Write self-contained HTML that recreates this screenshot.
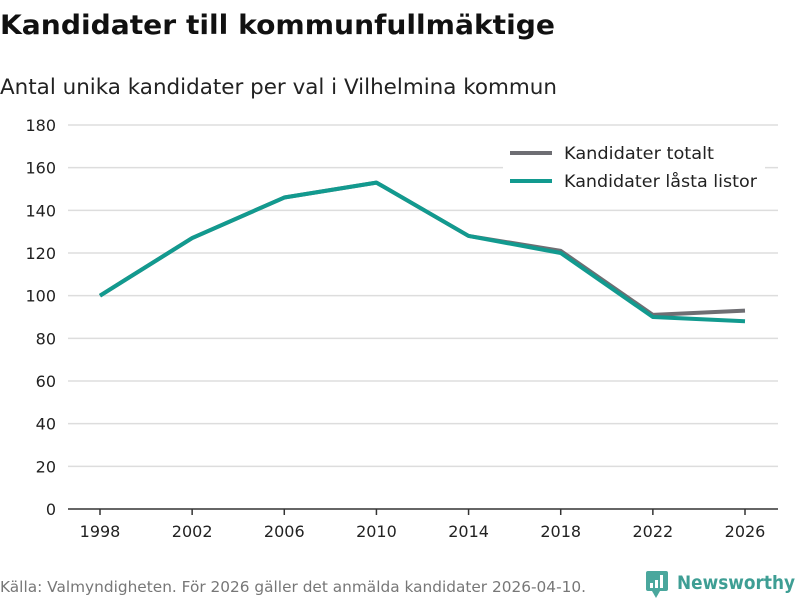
<!DOCTYPE html>
<html><head><meta charset="utf-8"><style>
body{margin:0;background:#fff;width:800px;height:600px;overflow:hidden;font-family:"DejaVu Sans","Liberation Sans",sans-serif;}
</style></head><body>
<svg id="chart" width="800" height="600" xmlns="http://www.w3.org/2000/svg" font-family="DejaVu Sans, Liberation Sans, sans-serif">
<text x="0" y="34" font-size="27" font-weight="bold" fill="#111" textLength="555" lengthAdjust="spacingAndGlyphs">Kandidater till kommunfullmäktige</text>
<text x="0" y="94" font-size="21" fill="#222" textLength="557" lengthAdjust="spacingAndGlyphs">Antal unika kandidater per val i Vilhelmina kommun</text>
<g id="grid"></g><g id="axes"></g><g id="lines"></g>
<g>
<rect x="503" y="140" width="262" height="58" fill="#fff"/>
<line x1="510" y1="153" x2="552" y2="153" stroke="#6e6e73" stroke-width="4"/>
<text x="564" y="159" font-size="16.5" fill="#222" textLength="150" lengthAdjust="spacingAndGlyphs">Kandidater totalt</text>
<line x1="510" y1="181" x2="552" y2="181" stroke="#129a8f" stroke-width="4"/>
<text x="564" y="187" font-size="16.5" fill="#222" textLength="193" lengthAdjust="spacingAndGlyphs">Kandidater låsta listor</text>
</g>
<text x="0" y="592" font-size="15" fill="#777" textLength="586" lengthAdjust="spacingAndGlyphs">Källa: Valmyndigheten. För 2026 gäller det anmälda kandidater 2026-04-10.</text>
<g>
<rect x="646" y="571" width="22" height="20" rx="2" fill="#4aa79d"/>
<polygon points="652,591 660,591 656,598" fill="#4aa79d"/>
<rect x="650" y="583" width="3" height="5" fill="#fff"/><rect x="655" y="580" width="3" height="8" fill="#fff"/><rect x="660" y="575" width="3" height="13" fill="#fff"/>
<text x="677" y="589" font-size="19" font-weight="bold" fill="#3e9e94" textLength="118" lengthAdjust="spacingAndGlyphs">Newsworthy</text>
</g>
</svg>
<script>
const years=[1998,2002,2006,2010,2014,2018,2022,2026];
const total=[100,127,146,153,128,121,91,93];
const locked=[100,127,146,153,128,120,90,88];
const yTicks=[0,20,40,60,80,100,120,140,160,180];
const NS="http://www.w3.org/2000/svg";
const x=v=>100+(v-1998)*(745-100)/28;
const y=v=>509-v*(509-125)/180;
function mk(t,a,p){const e=document.createElementNS(NS,t);for(const k in a)e.setAttribute(k,a[k]);p.appendChild(e);return e;}
const grid=document.getElementById('grid'),axes=document.getElementById('axes'),lines=document.getElementById('lines');
yTicks.forEach(v=>{
 const l=mk('line',{x1:68,x2:778,y1:y(v),y2:y(v),stroke:v===0?'#333':'#ddd','stroke-width':1.5},grid);
 
 
 const t=mk('text',{x:56,y:y(v)+6,'text-anchor':'end','font-size':16,fill:'#222'},axes);
 t.textContent=v;
 
 
});
years.forEach(yr=>{
 const tk=mk('line',{x1:x(yr),x2:x(yr),y1:509,y2:515,stroke:'#333','stroke-width':1.5},axes);
 
 
 const t=mk('text',{x:x(yr),y:537,'text-anchor':'middle','font-size':16,fill:'#222'},axes);
 t.textContent=yr;
 
 
});
function series(vals,color,name){
 const p=mk('polyline',{points:vals.map((v,i)=>x(years[i])+','+y(v)).join(' '),fill:'none',stroke:color,'stroke-width':4,'stroke-linejoin':'round'},lines);
 
 
}
series(total,'#6e6e73','line-total');
series(locked,'#129a8f','line-locked');
</script>
</body></html>
